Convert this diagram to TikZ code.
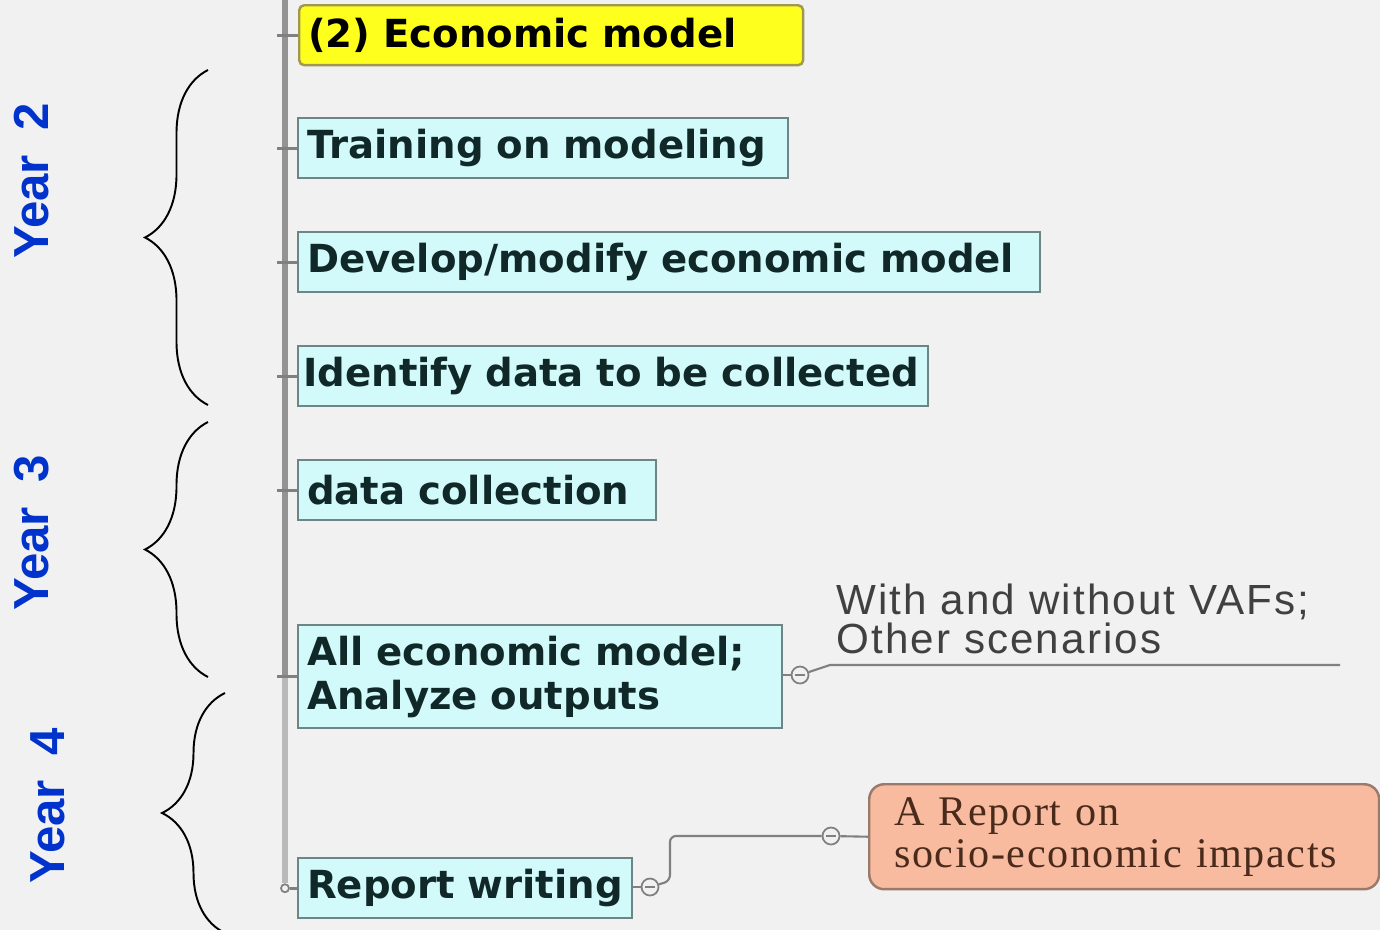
\documentclass[tikz,border=0pt]{standalone}
\usepackage{fontspec}
\setmainfont{Liberation Sans}
\newfontfamily\boxfont{DejaVu Sans}
\newfontfamily\reportfont[LetterSpace=3.8]{Liberation Serif}
\newfontfamily\notefont[LetterSpace=5]{Liberation Sans}
\usetikzlibrary{positioning, decorations.pathreplacing}

\definecolor{bgfill}{HTML}{F1F1F1}
\definecolor{boxfill}{HTML}{D2FAFA}
\definecolor{boxline}{HTML}{6F8585}
\definecolor{taskink}{HTML}{102828}
\definecolor{headfill}{HTML}{FFFF1E}
\definecolor{headline}{HTML}{A09850}
\definecolor{outfill}{HTML}{F8BBA0}
\definecolor{outline}{HTML}{9A7A6A}
\definecolor{outink}{HTML}{4A2A1A}
\definecolor{yearblue}{HTML}{0033CC}

\begin{document}
\begin{tikzpicture}[
        x=0.02cm, y=-0.02cm,
        task/.style={rectangle, draw=boxline, fill=boxfill, line width=1.4pt, anchor=north west, inner xsep=0.18cm, text=taskink, align=left, minimum height=1.2cm, font=\boxfont\bfseries\fontsize{22}{25}\selectfont},
        head/.style={task, draw=headline, fill=headfill, rounded corners=0.1cm, text=black},
        outcome/.style={rectangle, draw=outline, fill=outfill, line width=1.4pt, rounded corners=0.3cm, anchor=north west, text=outink, align=left, text width=9.2cm, inner xsep=0.5cm, minimum height=2.1cm, font=\reportfont\fontsize{24}{24}\selectfont},
        note/.style={anchor=south west, text=black!75, align=left, inner sep=0pt, font=\notefont\fontsize{24}{22}\selectfont},
        year/.style={rotate=90, text=yearblue, font=\bfseries\fontsize{28}{28}\selectfont},
        knob/.style={circle, draw=gray, line width=1pt, fill=bgfill, minimum size=0.34cm, inner sep=0pt,
            path picture={\draw[gray, line width=1.2pt] ([xshift=0.07cm]path picture bounding box.west) -- ([xshift=-0.07cm]path picture bounding box.east);}},
        link/.style={draw=gray, line width=1.2pt},
        tick/.style={draw=gray, line width=1.6pt},
        curly/.style={decorate, decoration={brace, amplitude=1.26cm}, line width=1.1pt}
    ]
        \fill[bgfill] (0,0) rectangle (1380,930);
        \useasboundingbox (0,0) rectangle (1380,930);

        % tasks
        \node[head, text width=9.72cm] (econ) at (298,4) {(2) Economic model};
        \node[task, text width=9.44cm] (train) at (297,117) {Training on modeling};
        \node[task, text width=14.48cm] (develop) at (297,231) {Develop/modify economic model};
        \node[task, text width=12.4cm, inner xsep=0.1cm] (identify) at (297,345) {Identify data to be collected};
        \node[task, text width=6.8cm] (collect) at (297,459) {data collection};
        \node[task, text width=9.32cm, minimum height=2.06cm] (analyze) at (297,624) {All economic model;\\Analyze outputs};
        \node[task, text width=6.32cm] (report) at (297,857) {Report writing};
        \node[outcome] (paper) at (868,783) {A Report on\\socio-economic impacts};

        % trunk
        \coordinate (trunk) at (285,-5);
        \draw[line width=3.4pt, gray!85] (trunk) -- (trunk |- analyze.west);
        \draw[line width=3.4pt, gray!55] (trunk |- analyze.west) -- ([yshift=0.1cm]trunk |- report.west);
        \foreach \n in {econ,train,develop,identify,collect,analyze}
            \draw[tick] ([xshift=-0.16cm]trunk |- \n.west) -- (\n.west);
        \node[circle, draw=gray, line width=1pt, fill=bgfill, minimum size=0.16cm, inner sep=0pt] (stub) at (trunk |- report.west) {};
        \draw[tick] (stub) -- (report.west);

        % scenarios
        \node[knob] (k1) at (800,675) {};
        \coordinate (bend) at (830,665);
        \coordinate (lineend) at (1340,665);
        \draw[link] (analyze.east |- k1) -- (k1);
        \draw[link] (k1) -- (bend) -- (lineend);
        \node[note] (scen) at (836,654) {With and without VAFs;\\Other scenarios};

        % report
        \node[knob] (k2) at (650,887) {};
        \node[knob] (k3) at (831,836) {};
        \draw[link] (report.east |- k2) -- (k2);
        \draw[link, rounded corners=0.12cm] (k2) -- ++(20,-6) |- (k3);
        \draw[link] (k3) -- (paper.west);

        % years
        \draw[curly] (208,405) -- (208,70);
        \draw[curly] (208,677) -- (208,422);
        \draw[curly] (225,933) -- (225,693);
        \node[year] (y2) at (32,181) {Year\enspace 2};
        \node[year] (y3) at (32,533) {Year\enspace 3};
        \node[year] (y4) at (48,806) {Year\enspace 4};
    \end{tikzpicture}
\end{document}
